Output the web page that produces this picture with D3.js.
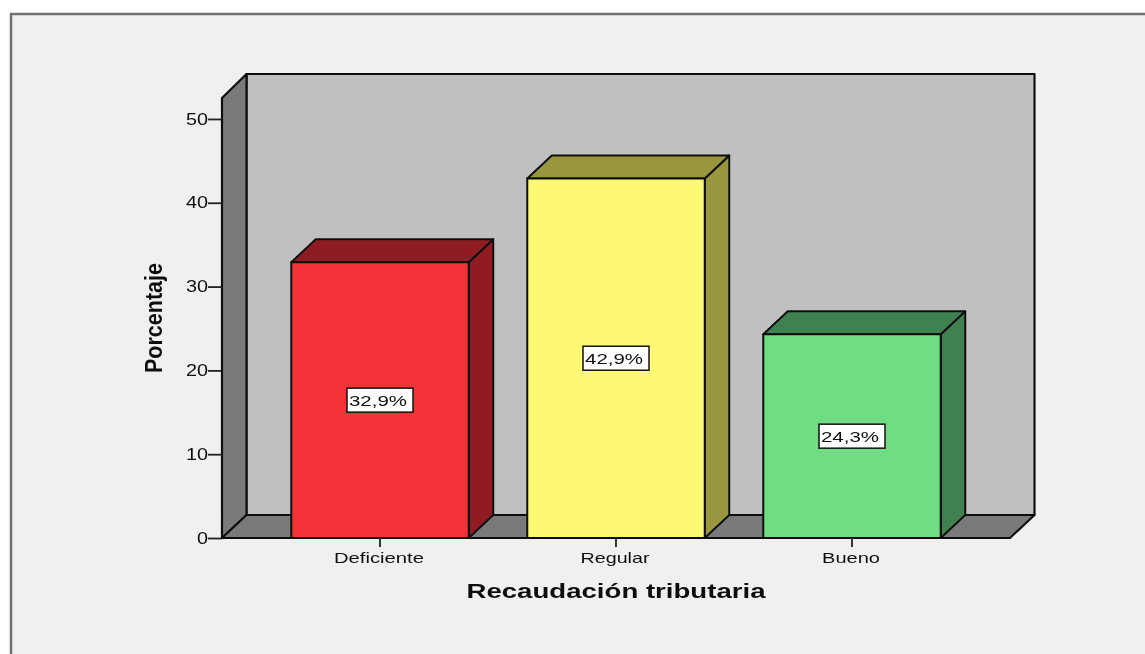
<!DOCTYPE html>
<html>
<head>
<meta charset="utf-8">
<script src="https://cdnjs.cloudflare.com/ajax/libs/d3/7.8.5/d3.min.js"></script>
<style>
  html, body { margin: 0; padding: 0; background: #fff; }
  svg { display: block; }
  text { font-family: "Liberation Sans", Arial, sans-serif; fill: #111; }
</style>
</head>
<body>
<div class="chart"></div>
<script>
var svgWidth = 1145;
var svgHeight = 654;

// values
var categories = ["Deficiente", "Regular", "Bueno"];
var percentages = [32.9, 42.9, 24.3];
var barLabels = ["32,9%", "42,9%", "24,3%"];
var yTicks = [0, 10, 20, 30, 40, 50];
var frontColors = ["#f33339", "#fdf975", "#70dd84"];
var sideColors = ["#8f1f23", "#999640", "#3f8250"];

var margin = { top: 98, right: 135, bottom: 116, left: 222 };
var width = svgWidth - margin.left - margin.right;
var height = svgHeight - margin.top - margin.bottom;

// depth of the fake 3d box
var depthX = 24.5;
var depthY = 23;

var svg = d3.select(".chart")
  .append("svg")
  .attr("width", svgWidth)
  .attr("height", svgHeight);

// the source is a slightly soft screenshot
var blur = svg.append("defs").append("filter")
  .attr("id", "soft")
  .attr("x", "-5%").attr("y", "-5%").attr("width", "110%").attr("height", "110%");
blur.append("feGaussianBlur").attr("stdDeviation", 0.5);

var page = svg.append("g").attr("filter", "url(#soft)");

// panel with the gray frame
page.append("rect")
  .attr("x", 11)
  .attr("y", 14)
  .attr("width", svgWidth + 20)
  .attr("height", svgHeight + 20)
  .attr("fill", "#f0f0f0")
  .attr("stroke", "#6f6f6f")
  .attr("stroke-width", 2.5);

var chartGroup = page.append("g")
  .attr("transform", `translate(${margin.left}, ${margin.top})`);

var xScale = d3.scaleBand()
  .domain(categories)
  .range([0, width])
  .paddingInner(0.248)
  .paddingOuter(0.2935);

var yScale = d3.scaleLinear()
  .domain([0, 52.5])
  .range([height, 0]);

function poly(points) {
  return points.map(p => p.join(",")).join(" ");
}

// walls
var walls = [
  { fill: "#c0c0c0", points: [[depthX, -depthY - 1], [width + depthX, -depthY - 1], [width + depthX, height - depthY], [depthX, height - depthY]] },
  { fill: "#7a7a7a", points: [[0, 0], [depthX, -depthY - 1], [depthX, height - depthY], [0, height]] },
  { fill: "#7a7a7a", points: [[0, height], [depthX, height - depthY], [width + depthX, height - depthY], [width, height]] }
];

chartGroup.selectAll(".wall")
  .data(walls)
  .enter()
  .append("polygon")
  .attr("class", "wall")
  .attr("points", d => poly(d.points))
  .attr("fill", d => d.fill)
  .attr("stroke", "#111")
  .attr("stroke-width", 2.2)
  .attr("stroke-linejoin", "round");

// bars: side, top, then front
var bars = chartGroup.selectAll(".bar")
  .data(percentages)
  .enter()
  .append("g")
  .attr("class", "bar");

bars.append("polygon")
  .attr("points", (d, i) => {
    var x1 = xScale(categories[i]) + xScale.bandwidth();
    var y = yScale(d);
    return poly([[x1, y], [x1 + depthX, y - depthY], [x1 + depthX, height - depthY], [x1, height]]);
  })
  .attr("fill", (d, i) => sideColors[i]);

bars.append("polygon")
  .attr("points", (d, i) => {
    var x0 = xScale(categories[i]);
    var x1 = x0 + xScale.bandwidth();
    var y = yScale(d);
    return poly([[x0, y], [x0 + depthX, y - depthY], [x1 + depthX, y - depthY], [x1, y]]);
  })
  .attr("fill", (d, i) => sideColors[i]);

bars.append("rect")
  .attr("x", (d, i) => xScale(categories[i]))
  .attr("y", d => yScale(d))
  .attr("width", xScale.bandwidth())
  .attr("height", d => height - yScale(d))
  .attr("fill", (d, i) => frontColors[i]);

bars.selectAll("polygon, rect")
  .attr("stroke", "#111")
  .attr("stroke-width", 2)
  .attr("stroke-linejoin", "round");

// value labels in the middle of the bars
var labelWidth = 66;
var labelHeight = 24;

bars.append("rect")
  .attr("x", (d, i) => xScale(categories[i]) + xScale.bandwidth() / 2 - labelWidth / 2)
  .attr("y", d => yScale(d / 2) - labelHeight / 2)
  .attr("width", labelWidth)
  .attr("height", labelHeight)
  .attr("fill", "#fff")
  .attr("stroke", "#111")
  .attr("stroke-width", 1.5);

bars.append("text")
  .attr("x", (d, i) => xScale(categories[i]) + xScale.bandwidth() / 2 - 2)
  .attr("y", d => yScale(d / 2) + 6)
  .attr("text-anchor", "middle")
  .attr("font-size", "15.5px")
  .attr("textLength", 58)
  .attr("lengthAdjust", "spacingAndGlyphs")
  .text((d, i) => barLabels[i]);

// axes
var leftAxis = d3.axisLeft(yScale)
  .tickValues(yTicks)
  .tickSize(14)
  .tickSizeOuter(0)
  .tickPadding(0);

var bottomAxis = d3.axisBottom(xScale)
  .tickSize(9)
  .tickSizeOuter(0)
  .tickPadding(5);

var yAxis = chartGroup.append("g").call(leftAxis);
var xAxis = chartGroup.append("g")
  .attr("transform", `translate(0, ${height})`)
  .call(bottomAxis);

yAxis.select(".domain").remove();
xAxis.select(".domain").remove();

yAxis.selectAll("line").attr("stroke", "#222").attr("stroke-width", 1.8);
xAxis.selectAll("line").attr("stroke", "#222").attr("stroke-width", 1.8);

yAxis.selectAll("text")
  .attr("font-size", "16px")
  .attr("font-family", "'Liberation Sans', Arial, sans-serif")
  .attr("fill", "#111")
  .attr("textLength", d => d === 0 ? 11 : 22)
  .attr("lengthAdjust", "spacingAndGlyphs");

xAxis.selectAll("text")
  .attr("x", -1)
  .attr("font-size", "15px")
  .attr("font-family", "'Liberation Sans', Arial, sans-serif")
  .attr("fill", "#111")
  .attr("textLength", d => ({ Deficiente: 90, Regular: 69, Bueno: 58 }[d]))
  .attr("lengthAdjust", "spacingAndGlyphs");

// axis titles
page.append("text")
  .attr("x", 616)
  .attr("y", 598)
  .attr("text-anchor", "middle")
  .attr("font-size", "21px")
  .attr("font-weight", "bold")
  .attr("textLength", 299)
  .attr("lengthAdjust", "spacingAndGlyphs")
  .text("Recaudación tributaria");

page.append("text")
  .attr("transform", "translate(162, 318) rotate(-90)")
  .attr("text-anchor", "middle")
  .attr("font-size", "24px")
  .attr("font-weight", "bold")
  .attr("textLength", 110)
  .attr("lengthAdjust", "spacingAndGlyphs")
  .text("Porcentaje");
</script>
</body>
</html>
